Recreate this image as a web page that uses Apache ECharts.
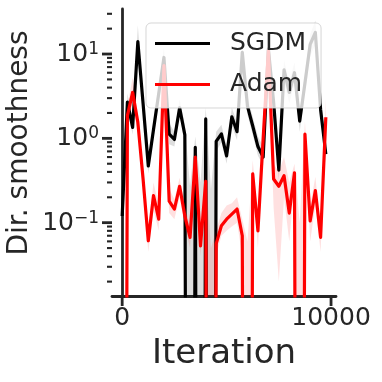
<!DOCTYPE html>
<html>
<head>
    <meta charset="utf-8">
    <title>Dir. smoothness</title>
    <script src="https://cdn.jsdelivr.net/npm/echarts@6/dist/echarts.min.js"></script>
    <style>
        html, body { margin: 0; padding: 0; background: #fff; }
        #chart { width: 382px; height: 382px; }
    </style>
</head>
<body>
<div id="chart"></div>
<script type="text/javascript">
    // values <= 0 get clipped to the bottom of the log axis, this stands in for them
    var C = 1e-20;

    var iters = [0, 250, 500, 750, 1000, 1250, 1500, 1750, 2000, 2250,
        2500, 2750, 3000, 3250, 3500, 3750, 4000, 4250, 4500, 4750,
        5000, 5250, 5500, 5750, 6000, 6250, 6500, 6750, 7000, 7250,
        7500, 7750, 8000, 8250, 8500, 8750, 9000, 9250, 9500, 9750];

    // SGDM mean and band
    var sgdm = [0.12, 2.7, 1.35, 14, 2.6, 0.47, 1.27, 3.4, 9.1, 1.12,
        0.97, 2.3, 1.1, C, 0.78, C, 1.7, C, 0.92, 1.13,
        0.62, 1.8, 1.2, 10.5, 2.4, 1.4, 0.8, 0.6, 11.5, 2.7,
        0.42, 6.5, 3.5, 6, 1.6, 4.5, 13, 18, 2.2, 0.65];
    var sgdmLo = [0.04, 2.2, 1.1, 10, 2.1, 0.38, 1.0, 2.8, 6.5, 0.85,
        0.8, 1.9, 0.85, C, 0.55, C, 1.2, C, 0.7, 0.9,
        0.5, 1.4, 0.95, 7.5, 1.9, 1.1, 0.62, 0.48, 8.5, 2.0,
        0.32, 4.8, 2.6, 4.5, 1.2, 3.4, 9.5, 13, 1.7, 0.52];
    var sgdmHi = [0.16, 3.4, 1.7, 22, 3.3, 0.6, 1.6, 4.3, 12, 1.5,
        1.2, 2.9, 1.45, 0.27, 1.05, 0.3, 2.3, 0.25, 1.2, 1.45,
        0.8, 2.3, 1.55, 14, 3.1, 1.8, 1.05, 0.8, 15, 3.6,
        0.55, 8.5, 4.6, 8, 2.2, 6, 17, 25, 2.9, 0.82];

    // Adam mean and band
    var adam = [C, 1.86, 3.5, 1.55, 0.33, 0.061, 0.21, 0.11, 7.3, 0.18,
        0.145, 0.27, 0.12, 0.067, 0.6, 0.053, 0.31, C, 0.056, 0.092,
        0.11, 0.126, 0.145, 0.07, C, 0.38, 0.08, 1.0, 11, 0.33,
        0.27, 0.36, 0.13, 0.39, C, 1.12, 0.105, 0.24, 0.067, 1.78];
    var adamLo = [C, 1.5, 2.6, 1.2, 0.25, 0.045, 0.14, 0.08, 5.5, 0.13,
        0.11, 0.2, 0.09, 0.05, 0.45, 0.04, 0.23, C, 0.04, 0.07,
        0.08, 0.09, 0.1, 0.04, C, 0.28, 0.05, 0.7, 8, 0.15,
        0.02, 0.2, 0.06, 0.28, C, 0.8, 0.06, 0.16, 0.045, 1.2];
    var adamHi = [C, 2.4, 5.3, 2.0, 0.45, 0.08, 0.3, 0.16, 9.5, 0.25,
        0.19, 0.34, 0.16, 0.09, 0.8, 0.07, 0.4, 0.05, 0.08, 0.13,
        0.16, 0.17, 0.2, 0.11, 0.06, 0.55, 0.12, 1.4, 20, 0.5,
        0.4, 0.6, 0.3, 0.5, 0.1, 1.6, 0.16, 0.35, 0.09, 3];

    // axis ticks
    var xTicks = [0, 10000];
    var yMajor = [0.1, 1, 10];
    var yMinor = [0.02, 0.03, 0.04, 0.05, 0.06, 0.07, 0.08, 0.09,
        0.2, 0.3, 0.4, 0.5, 0.6, 0.7, 0.8, 0.9,
        2, 3, 4, 5, 6, 7, 8, 9, 20, 30];

    var xMin = -487.5, xMax = 10237.5, yMin = 0.0135, yMax = 34.2;
    var ink = '#262626';
    var font = 'DejaVu Sans';

    function pairs(ys) {
        return iters.map(function (x, i) { return [x, ys[i]]; });
    }

    // one polygon for the whole band, built from the library's coords
    function bandRender(lo, hi, color) {
        return function (params, api) {
            if (params.dataIndex !== 0) return null;
            var pts = [];
            for (var i = 0; i < iters.length; i++) pts.push(api.coord([iters[i], hi[i]]));
            for (var j = iters.length - 1; j >= 0; j--) pts.push(api.coord([iters[j], lo[j]]));
            return {type: 'polygon', shape: {points: pts}, style: {fill: color}};
        };
    }

    var yTickData = yMajor.map(function (v) { return [xMin, v, 10]; })
        .concat(yMinor.map(function (v) { return [xMin, v, 5]; }));
    var xTickData = xTicks.map(function (v) { return [v, yMin]; });

    var myChart = echarts.init(document.getElementById('chart'), null, {renderer: 'canvas'});
    myChart.setOption({
        animation: false,
        backgroundColor: '#fff',
        grid: {left: 112, right: 46, top: 9, bottom: 86, containLabel: false, outerBoundsMode: 'none'},
        xAxis: {
            type: 'value', min: xMin, max: xMax,
            axisLine: {lineStyle: {color: ink, width: 2.8}},
            axisTick: {show: false},
            splitLine: {show: false},
            axisLabel: {
                margin: 10, fontSize: 25, fontFamily: font, color: ink,
                showMinLabel: false, showMaxLabel: false,
                formatter: function (v) { return xTicks.indexOf(v) >= 0 ? String(v) : ''; }
            },
            name: 'Iteration', nameLocation: 'middle', nameGap: 41,
            nameTextStyle: {fontSize: 34, fontFamily: font, color: ink}
        },
        yAxis: {
            type: 'log', logBase: 10, min: yMin, max: yMax,
            axisLine: {lineStyle: {color: ink, width: 2.8}},
            axisTick: {show: false},
            splitLine: {show: false},
            axisLabel: {
                margin: 13, color: ink, fontFamily: font,
                formatter: function (v) {
                    var e = Math.log10(v), r = Math.round(e);
                    if (Math.abs(e - r) > 1e-6) return '';
                    return '{b|10}{s|' + (r < 0 ? '\u2212' : '') + Math.abs(r) + '}';
                },
                rich: {
                    b: {fontSize: 25, fontFamily: font, color: ink, lineHeight: 26, verticalAlign: 'bottom'},
                    s: {fontSize: 17, fontFamily: font, color: ink, lineHeight: 17, verticalAlign: 'top'}
                }
            }
        },
        legend: {
            orient: 'vertical', left: 146, top: 23, z: 10, zlevel: 1,
            padding: [8, 15, 11, 9],
            icon: 'rect',
            itemWidth: 55, itemHeight: 3, itemGap: 16,
            backgroundColor: 'rgba(255,255,255,0.8)',
            borderColor: 'rgba(204,204,204,0.8)', borderWidth: 1, borderRadius: 5,
            textStyle: {fontSize: 25, lineHeight: 25, fontFamily: font, color: ink, padding: [0, 0, 0, 15]},
            data: ['SGDM', 'Adam']
        },
        graphic: [{
            type: 'text', x: 20, y: 143, rotation: Math.PI / 2,
            style: {text: 'Dir. smoothness', font: '28px "DejaVu Sans"', fill: ink,
                textAlign: 'center', textVerticalAlign: 'middle'}
        }],
        series: [
            {
                name: 'SGDM band', type: 'custom', clip: true, z: 1, silent: true,
                renderItem: bandRender(sgdmLo, sgdmHi, 'rgba(0,0,0,0.13)'),
                data: pairs(sgdm)
            },
            {
                name: 'SGDM', type: 'line', data: pairs(sgdm), symbol: 'none', z: 2,
                color: '#000000', clip: true,
                lineStyle: {color: '#000000', width: 3.2, join: 'round'}
            },
            {
                name: 'Adam band', type: 'custom', clip: true, z: 3, silent: true,
                renderItem: bandRender(adamLo, adamHi, 'rgba(255,0,0,0.12)'),
                data: pairs(adam)
            },
            {
                name: 'Adam', type: 'line', data: pairs(adam), symbol: 'none', z: 4,
                color: '#ff0000', clip: true,
                lineStyle: {color: '#ff0000', width: 3.2, join: 'round'}
            },
            {
                // y ticks, log minor ticks like matplotlib
                name: 'yticks', type: 'custom', clip: false, z: 5, silent: true,
                renderItem: function (params, api) {
                    var p = api.coord([api.value(0), api.value(1)]);
                    var len = api.value(2);
                    return {type: 'line', shape: {x1: p[0] - len, y1: p[1], x2: p[0], y2: p[1]},
                        style: {stroke: ink, lineWidth: len > 6 ? 2.8 : 2.1}};
                },
                data: yTickData
            },
            {
                name: 'xticks', type: 'custom', clip: false, z: 5, silent: true,
                renderItem: function (params, api) {
                    var p = api.coord([api.value(0), api.value(1)]);
                    return {type: 'line', shape: {x1: p[0], y1: p[1], x2: p[0], y2: p[1] + 10},
                        style: {stroke: ink, lineWidth: 2.8}};
                },
                data: xTickData
            }
        ]
    });
</script>
</body>
</html>
